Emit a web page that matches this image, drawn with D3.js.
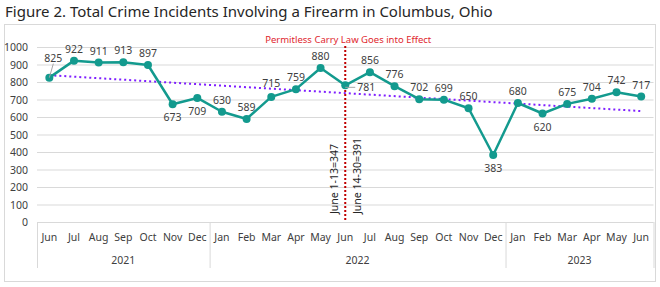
<!DOCTYPE html>
<html>
<head>
<meta charset="utf-8">
<script src="https://cdn.jsdelivr.net/npm/d3@7"></script>
<style>
  body { margin: 0; background: #fff; }
  svg { font-family: "Noto Sans", "Open Sans", sans-serif; }
</style>
</head>
<body>
<script>
// data
const months = ["Jun","Jul","Aug","Sep","Oct","Nov","Dec",
  "Jan","Feb","Mar","Apr","May","Jun","Jul","Aug","Sep","Oct","Nov","Dec",
  "Jan","Feb","Mar","Apr","May","Jun"];
const years = [
  { label: "2021", start: 0, end: 6 },
  { label: "2022", start: 7, end: 18 },
  { label: "2023", start: 19, end: 24 }
];
const incidents = [825, 922, 911, 913, 897, 673, 709, 630, 589, 715, 759, 880,
  781, 856, 776, 702, 699, 650, 383, 680, 620, 675, 704, 742, 717];
const yTicks = [0, 100, 200, 300, 400, 500, 600, 700, 800, 900, 1000];
const lawIndex = 12;
const lawText = "Permitless Carry Law Goes into Effect";
const juneSplit = ["June 1-13=347", "June 14-30=391"];

// label placement
const below = new Set([5, 6, 18, 20]);

const width = 660, height = 287;
const svg = d3.select("body").append("svg")
  .attr("width", width).attr("height", height);

// title
svg.append("text").attr("x", 5).attr("y", 17)
  .attr("font-size", 15).attr("fill", "#262626")
  .text("Figure 2. Total Crime Incidents Involving a Firearm in Columbus, Ohio");

// frame
svg.append("rect").attr("x", 4.5).attr("y", 24.5).attr("width", 651).attr("height", 257)
  .attr("fill", "none").attr("stroke", "#d9d9d9");

const x = d3.scaleBand().domain(d3.range(months.length)).range([37, 653.5]).padding(0);
const cx = i => x(i) + x.bandwidth() / 2;
const y = d3.scaleLinear().domain([0, 1000]).range([222, 47]);

// gridlines
svg.append("g").selectAll("line").data(yTicks).join("line")
  .attr("x1", 37).attr("x2", 653.5)
  .attr("y1", d => y(d) + 0.5).attr("y2", d => y(d) + 0.5)
  .attr("stroke", "#d9d9d9").attr("stroke-width", 1);

svg.append("g").selectAll("text").data(yTicks).join("text")
  .attr("x", 28).attr("y", d => y(d) + 4)
  .attr("text-anchor", "end").attr("font-size", 10.5).attr("fill", "#404040")
  .text(d => d);

// category axis
const sepIdx = [0, 7, 19, 25];
svg.append("g").selectAll("line").data(sepIdx).join("line")
  .attr("x1", d => (d < 25 ? x(d) : x.range()[1]) + 0.5)
  .attr("x2", d => (d < 25 ? x(d) : x.range()[1]) + 0.5)
  .attr("y1", 222).attr("y2", 268)
  .attr("stroke", "#d9d9d9");

svg.append("g").selectAll("text").data(months).join("text")
  .attr("x", (d, i) => cx(i)).attr("y", 241)
  .attr("text-anchor", "middle").attr("font-size", 10.5).attr("fill", "#404040")
  .text(d => d);

svg.append("g").selectAll("text").data(years).join("text")
  .attr("x", d => (x(d.start) + x(d.end) + x.bandwidth()) / 2).attr("y", 264)
  .attr("text-anchor", "middle").attr("font-size", 10.5).attr("fill", "#404040")
  .text(d => d.label);

// trend line (least squares)
const n = incidents.length;
const mx = d3.mean(d3.range(n)), my = d3.mean(incidents);
const slope = d3.sum(incidents, (v, i) => (i - mx) * (v - my)) / d3.sum(d3.range(n), i => (i - mx) ** 2);
const icpt = my - slope * mx;
svg.append("line")
  .attr("x1", cx(0)).attr("y1", y(icpt))
  .attr("x2", cx(n - 1)).attr("y2", y(icpt + slope * (n - 1)))
  .attr("stroke", "#7f1fff").attr("stroke-width", 2).attr("stroke-dasharray", "2 3");

// law line
const lx = cx(lawIndex);
svg.append("line").attr("x1", lx).attr("x2", lx).attr("y1", 46).attr("y2", 222)
  .attr("stroke", "#c00000").attr("stroke-width", 2).attr("stroke-dasharray", "2 2");
svg.append("text").attr("x", lx + 3).attr("y", 43)
  .attr("text-anchor", "middle").attr("font-size", 9.5).attr("fill", "#e0262e")
  .text(lawText);

svg.append("text").attr("transform", `translate(${lx - 7},214) rotate(-90)`)
  .attr("font-size", 10.5).attr("fill", "#262626").text(juneSplit[0]);
svg.append("text").attr("transform", `translate(${lx + 16},214) rotate(-90)`)
  .attr("font-size", 10.5).attr("fill", "#262626").text(juneSplit[1]);

// series
const line = d3.line().x((d, i) => cx(i)).y(d => y(d));
svg.append("path").datum(incidents)
  .attr("d", line).attr("fill", "none")
  .attr("stroke", "#139a8e").attr("stroke-width", 2.5).attr("stroke-linejoin", "round");

svg.append("g").selectAll("circle").data(incidents).join("circle")
  .attr("cx", (d, i) => cx(i)).attr("cy", d => y(d)).attr("r", 4)
  .attr("fill", "#139a8e");

// leader lines
svg.append("line").attr("x1", cx(0)).attr("y1", y(incidents[0]))
  .attr("x2", cx(0) + 4).attr("y2", y(incidents[0]) - 14)
  .attr("stroke", "#a6a6a6");
svg.append("line").attr("x1", cx(lawIndex)).attr("y1", y(incidents[lawIndex]) + 2)
  .attr("x2", cx(lawIndex) + 10).attr("y2", y(incidents[lawIndex]) + 2)
  .attr("stroke", "#a6a6a6");

// data labels
svg.append("g").selectAll("text").data(incidents).join("text")
  .attr("font-size", 10.5).attr("fill", "#404040")
  .attr("text-anchor", (d, i) => i === lawIndex ? "start" : "middle")
  .attr("x", (d, i) => i === 0 ? cx(i) + 4 : i === lawIndex ? cx(i) + 12 : cx(i))
  .attr("y", (d, i) => {
    if (i === 0) return y(d) - 16;
    if (i === lawIndex) return y(d) + 6;
    if (i === 9) return y(d) - 10;
    return below.has(i) ? y(d) + 17 : y(d) - 8;
  })
  .text(d => d);
</script>
</body>
</html>
